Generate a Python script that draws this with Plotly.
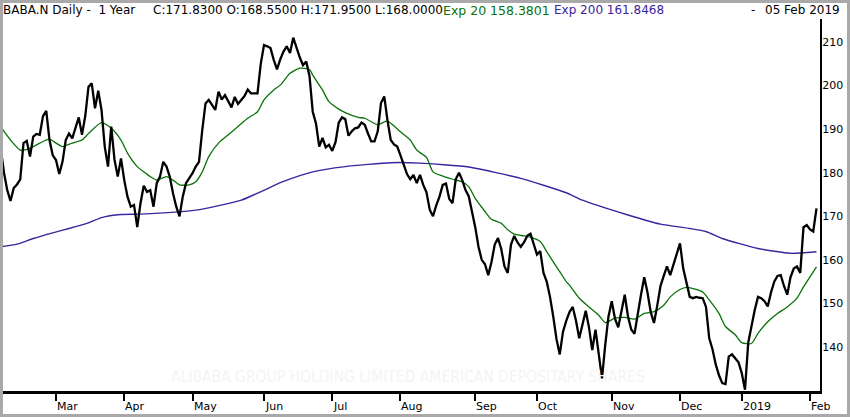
import pandas as pd
import plotly.graph_objects as go

# ---------------- data ----------------
start_date = "2018-02-05"
end_date = "2019-02-05"
market_holidays = ["2018-02-19", "2018-03-30", "2018-05-28", "2018-07-04", "2018-09-03",
                   "2018-11-22", "2018-12-05", "2018-12-25", "2019-01-01", "2019-01-21"]

close = [185.5, 180, 176, 173.5, 176.5, 177.3, 178.5, 186.8, 187.3, 183.7,
         188.3, 188.9, 188.7, 193, 194.2, 187.5, 184, 182.9, 179.7, 182.5,
         187.5, 189, 187.9, 190.6, 192.7, 188.7, 193, 199.7, 200.5, 194.8,
         198.8, 194.4, 186, 181.4, 190.6, 183, 179.1, 183.3, 178.3, 174.5,
         172.2, 172.6, 167.5, 173, 177, 175.6, 176, 172.2, 177.6, 179.1,
         182.5, 181.4, 179.1, 175.3, 172.2, 170, 174.5, 177.6, 178.7, 179.9,
         181.4, 182.5, 189.8, 195.9, 196.7, 195.5, 194.4, 198.6, 196.8, 197.8,
         196.3, 195, 197.4, 195.8, 196.7, 197.6, 199.1, 198.2, 198.2, 198.2,
         205, 209.3, 209, 208.6, 205.9, 203.7, 206, 207.8, 209, 207.5,
         211, 208.6, 206.5, 204.7, 205.5, 202.2, 194, 191.3, 186, 188,
         185.8, 186.4, 185, 187, 191.5, 192.7, 192.3, 188.5, 189.5, 190.2,
         190.4, 191.5, 191, 189, 187.2, 187.2, 189.5, 196, 197.5, 192,
         187.5, 186.5, 186, 184, 182, 179.7, 178.5, 179.5, 177.6, 179.5,
         177.2, 175.5, 171.5, 170, 172.5, 174.5, 177.2, 177.5, 174, 173,
         178.5, 180, 178.3, 176, 174.6, 171, 167.5, 163, 160, 159,
         156.5, 159.5, 163.5, 165, 162.5, 158.5, 157, 163.5, 165.5, 164,
         163, 164, 165.5, 166, 163.5, 161.2, 162, 157, 155, 151.5,
         147, 141.8, 138.3, 143.5, 146, 148, 149.2, 146, 142, 145,
         148.3, 144.5, 139.3, 144, 138.5, 132.8, 140.5, 147, 150.5, 146.5,
         144.5, 148.5, 152, 147, 144, 143, 148, 152, 156, 152.5,
         148, 145.5, 149.5, 154, 156.3, 158.5, 156.5, 159, 161.5, 163.8,
         158, 155, 151.5, 151.2, 151.5, 151.3, 151.2, 149.2, 142, 139.5,
         136, 133.5, 131.7, 131.5, 137.8, 138.3, 137.5, 136.5, 134, 130.2,
         141, 145, 148.5, 151.5, 151.2, 150.5, 149.3, 152.5, 155, 156.3,
         156.5, 154, 152, 156, 158, 158.5, 157, 167.5, 168, 167,
         166.5, 171.83]

# EMA 20 (trading-day number -> value)
ema20_day = [0, 3, 6, 9, 12, 15, 17, 19, 22, 25, 27, 31, 34, 37, 39, 42, 44, 46, 48, 51,
             53, 55, 58, 60, 62, 64, 67, 70, 73, 76, 79, 81, 84, 86, 89, 92, 95, 96, 99, 101,
             104, 106, 110, 112, 115, 116, 119, 121, 123, 126, 128, 131, 133, 136, 139, 142, 144, 146, 149, 151,
             154, 156, 158, 161, 163, 166, 168, 171, 172, 174, 175, 178, 181, 184, 186, 189, 192, 195, 198, 201,
             204, 206, 209, 211, 214, 216, 218, 221, 223, 226, 228, 231, 233, 236, 239, 242, 245, 247, 249, 251]
ema20_val = [190.5, 187.5, 185.2, 185.6, 186.8, 187.7, 186.8, 186, 186.8, 187.5, 189, 191.5, 190.2, 187.5, 184.5, 181.4, 180.2, 179.1, 178.3, 179.1,
             178.3, 177.2, 177.2, 177.9, 180.2, 183.7, 186.8, 188.7, 190.6, 192.5, 194, 196.7, 199, 200.1, 202.8, 204, 203.7, 202.4, 199, 196.3,
             194.6, 193.8, 192.7, 192.5, 191.3, 191, 191.9, 190.7, 189.4, 187.5, 185.2, 183.5, 180.2, 179.2, 178.5, 177.9, 176.8, 174.1, 171.1, 169.3,
             168.4, 166.9, 165.9, 165.5, 165.2, 164.2, 161.9, 158.4, 157.3, 155, 154.2, 151.2, 149.2, 147.3, 145.6, 146.6, 146.8, 146.4, 147.7, 148.1,
             149.6, 151.5, 153.2, 153.7, 153.2, 152.6, 150.8, 147.7, 144.7, 142.8, 141, 140.8, 143.1, 145.8, 147.7, 149.2, 151.2, 153.8, 156.1, 158.38]

# EMA 200
ema200_day = [0, 5, 10, 16, 21, 27, 31, 37, 43, 60, 74, 87, 96, 106, 120, 129, 144, 160, 174, 179,
              193, 203, 212, 217, 222, 233, 243, 251]
ema200_val = [163, 163.6, 164.9, 166.2, 167.2, 168.5, 169.7, 170.4, 170.5, 171.4, 173.7, 178, 180.2, 181.4, 182.3, 182.2, 181.3, 178.7, 175.4, 173.7,
              170.3, 168.2, 167.2, 166.5, 164.9, 162.6, 161.5, 161.85]

month_labels = ["Mar", "Apr", "May", "Jun", "Jul", "Aug", "Sep", "Oct", "Nov", "Dec", "2019", "Feb"]
y_ticks = [140, 150, 160, 170, 180, 190, 200, 210]

header_title = "BABA.N Daily -  1 Year"
header_ohlc = "C:171.8300 O:168.5500 H:171.9500 L:168.0000"
header_ema20 = "Exp 20 158.3801"
header_ema200 = "Exp 200 161.8468"
header_date = "05 Feb 2019"
watermark = "ALIBABA GROUP HOLDING LIMITED AMERICAN DEPOSITARY SHARES"

# ---------------- build ----------------
days = pd.bdate_range(start_date, end_date)
days = [d for d in days if d.strftime("%Y-%m-%d") not in market_holidays]
dates = [d.strftime("%Y-%m-%d") for d in days]
assert len(dates) == len(close), (len(dates), len(close))

# first trading day of each month (after the first month)
month_starts = []
prev = days[0].month
for d, s in zip(days, dates):
    if d.month != prev:
        month_starts.append(s)
        prev = d.month

W, H = 850, 417
ML, MR, MT, MB = 0, 30, 19, 26
PW, PH = W - ML - MR, H - MT - MB


def px(xp):
    return (xp - ML) / PW


def py(yp):
    return (H - MB - yp) / PH


FONT = "DejaVu Sans"
GREEN = "#087208"
PURPLE = "#3b24a0"

fig = go.Figure()
fig.add_trace(go.Scatter(x=[dates[i] for i in ema200_day], y=ema200_val, mode="lines",
                         line=dict(color=PURPLE, width=1.4, shape="spline", smoothing=0.5),
                         hoverinfo="skip"))
fig.add_trace(go.Scatter(x=[dates[i] for i in ema20_day], y=ema20_val, mode="lines",
                         line=dict(color=GREEN, width=1.3, shape="spline", smoothing=0.6),
                         hoverinfo="skip"))
fig.add_trace(go.Scatter(x=dates, y=close, mode="lines",
                         line=dict(color="black", width=2.3), hoverinfo="skip"))

annotations = []
# watermark
annotations.append(dict(text=watermark, xref="paper", yref="paper", x=px(408), y=py(377),
                        showarrow=False, font=dict(family="DejaVu Sans Condensed", size=15.5, color="#f4f4f4"),
                        xanchor="center", yanchor="middle"))
# month labels (left aligned at tick)
for s, lab in zip(month_starts, month_labels):
    annotations.append(dict(text=lab, xref="x", yref="paper", x=s, y=py(406.5), showarrow=False,
                            xanchor="left", yanchor="middle", xshift=-1,
                            font=dict(family=FONT, size=11, color="black")))
# header
hy = py(10)
hfont = dict(family=FONT, size=12, color="black")
annotations.append(dict(text=header_title, xref="paper", yref="paper", x=px(1), y=hy, showarrow=False,
                        xanchor="left", yanchor="middle", font=hfont))
annotations.append(dict(text=header_ohlc, xref="paper", yref="paper", x=px(151), y=hy, showarrow=False,
                        xanchor="left", yanchor="middle", font=hfont))
annotations.append(dict(text=header_ema20, xref="paper", yref="paper", x=px(441), y=hy, showarrow=False,
                        xanchor="left", yanchor="middle", font=dict(family=FONT, size=12.5, color=GREEN)))
annotations.append(dict(text=header_ema200, xref="paper", yref="paper", x=px(552), y=hy, showarrow=False,
                        xanchor="left", yanchor="middle", font=dict(family=FONT, size=12, color=PURPLE)))
annotations.append(dict(text="-", xref="paper", yref="paper", x=px(749), y=hy, showarrow=False,
                        xanchor="left", yanchor="middle", font=hfont))
annotations.append(dict(text=header_date, xref="paper", yref="paper", x=px(842), y=hy, showarrow=False,
                        xanchor="right", yanchor="middle", font=hfont))

shapes = [dict(type="rect", xref="paper", yref="paper", x0=px(1.5), x1=px(848.5), y0=py(415.5), y1=py(1.5),
               line=dict(color="#a9a9a9", width=3), layer="above")]

ypx_per = 4.357
y_lo = 210 - (H - MB - 42) / ypx_per
y_hi = 210 + (42 - MT) / ypx_per

fig.update_layout(
    width=W, height=H, margin=dict(l=ML, r=MR, t=MT, b=MB),
    paper_bgcolor="white", plot_bgcolor="white", showlegend=False,
    annotations=annotations, shapes=shapes,
    xaxis=dict(type="category", categoryorder="array", categoryarray=dates,
               range=[-0.23, 252.08], showgrid=False, zeroline=False,
               showline=True, linecolor="black", linewidth=2.5,
               tickmode="array", tickvals=month_starts, ticktext=[""] * len(month_starts),
               ticks="outside", ticklen=7, tickwidth=2, tickcolor="black", showticklabels=False),
    yaxis=dict(side="right", range=[y_lo, y_hi], showgrid=False, zeroline=False,
               showline=True, linecolor="black", linewidth=2, ticks="",
               tickmode="array", tickvals=y_ticks, ticklabelstandoff=-2,
               tickfont=dict(family=FONT, size=11, color="black")),
)

fig.write_html("out.html", config={"displayModeBar": False},
               post_script="document.body.style.margin='0';document.body.style.overflow='hidden';")
